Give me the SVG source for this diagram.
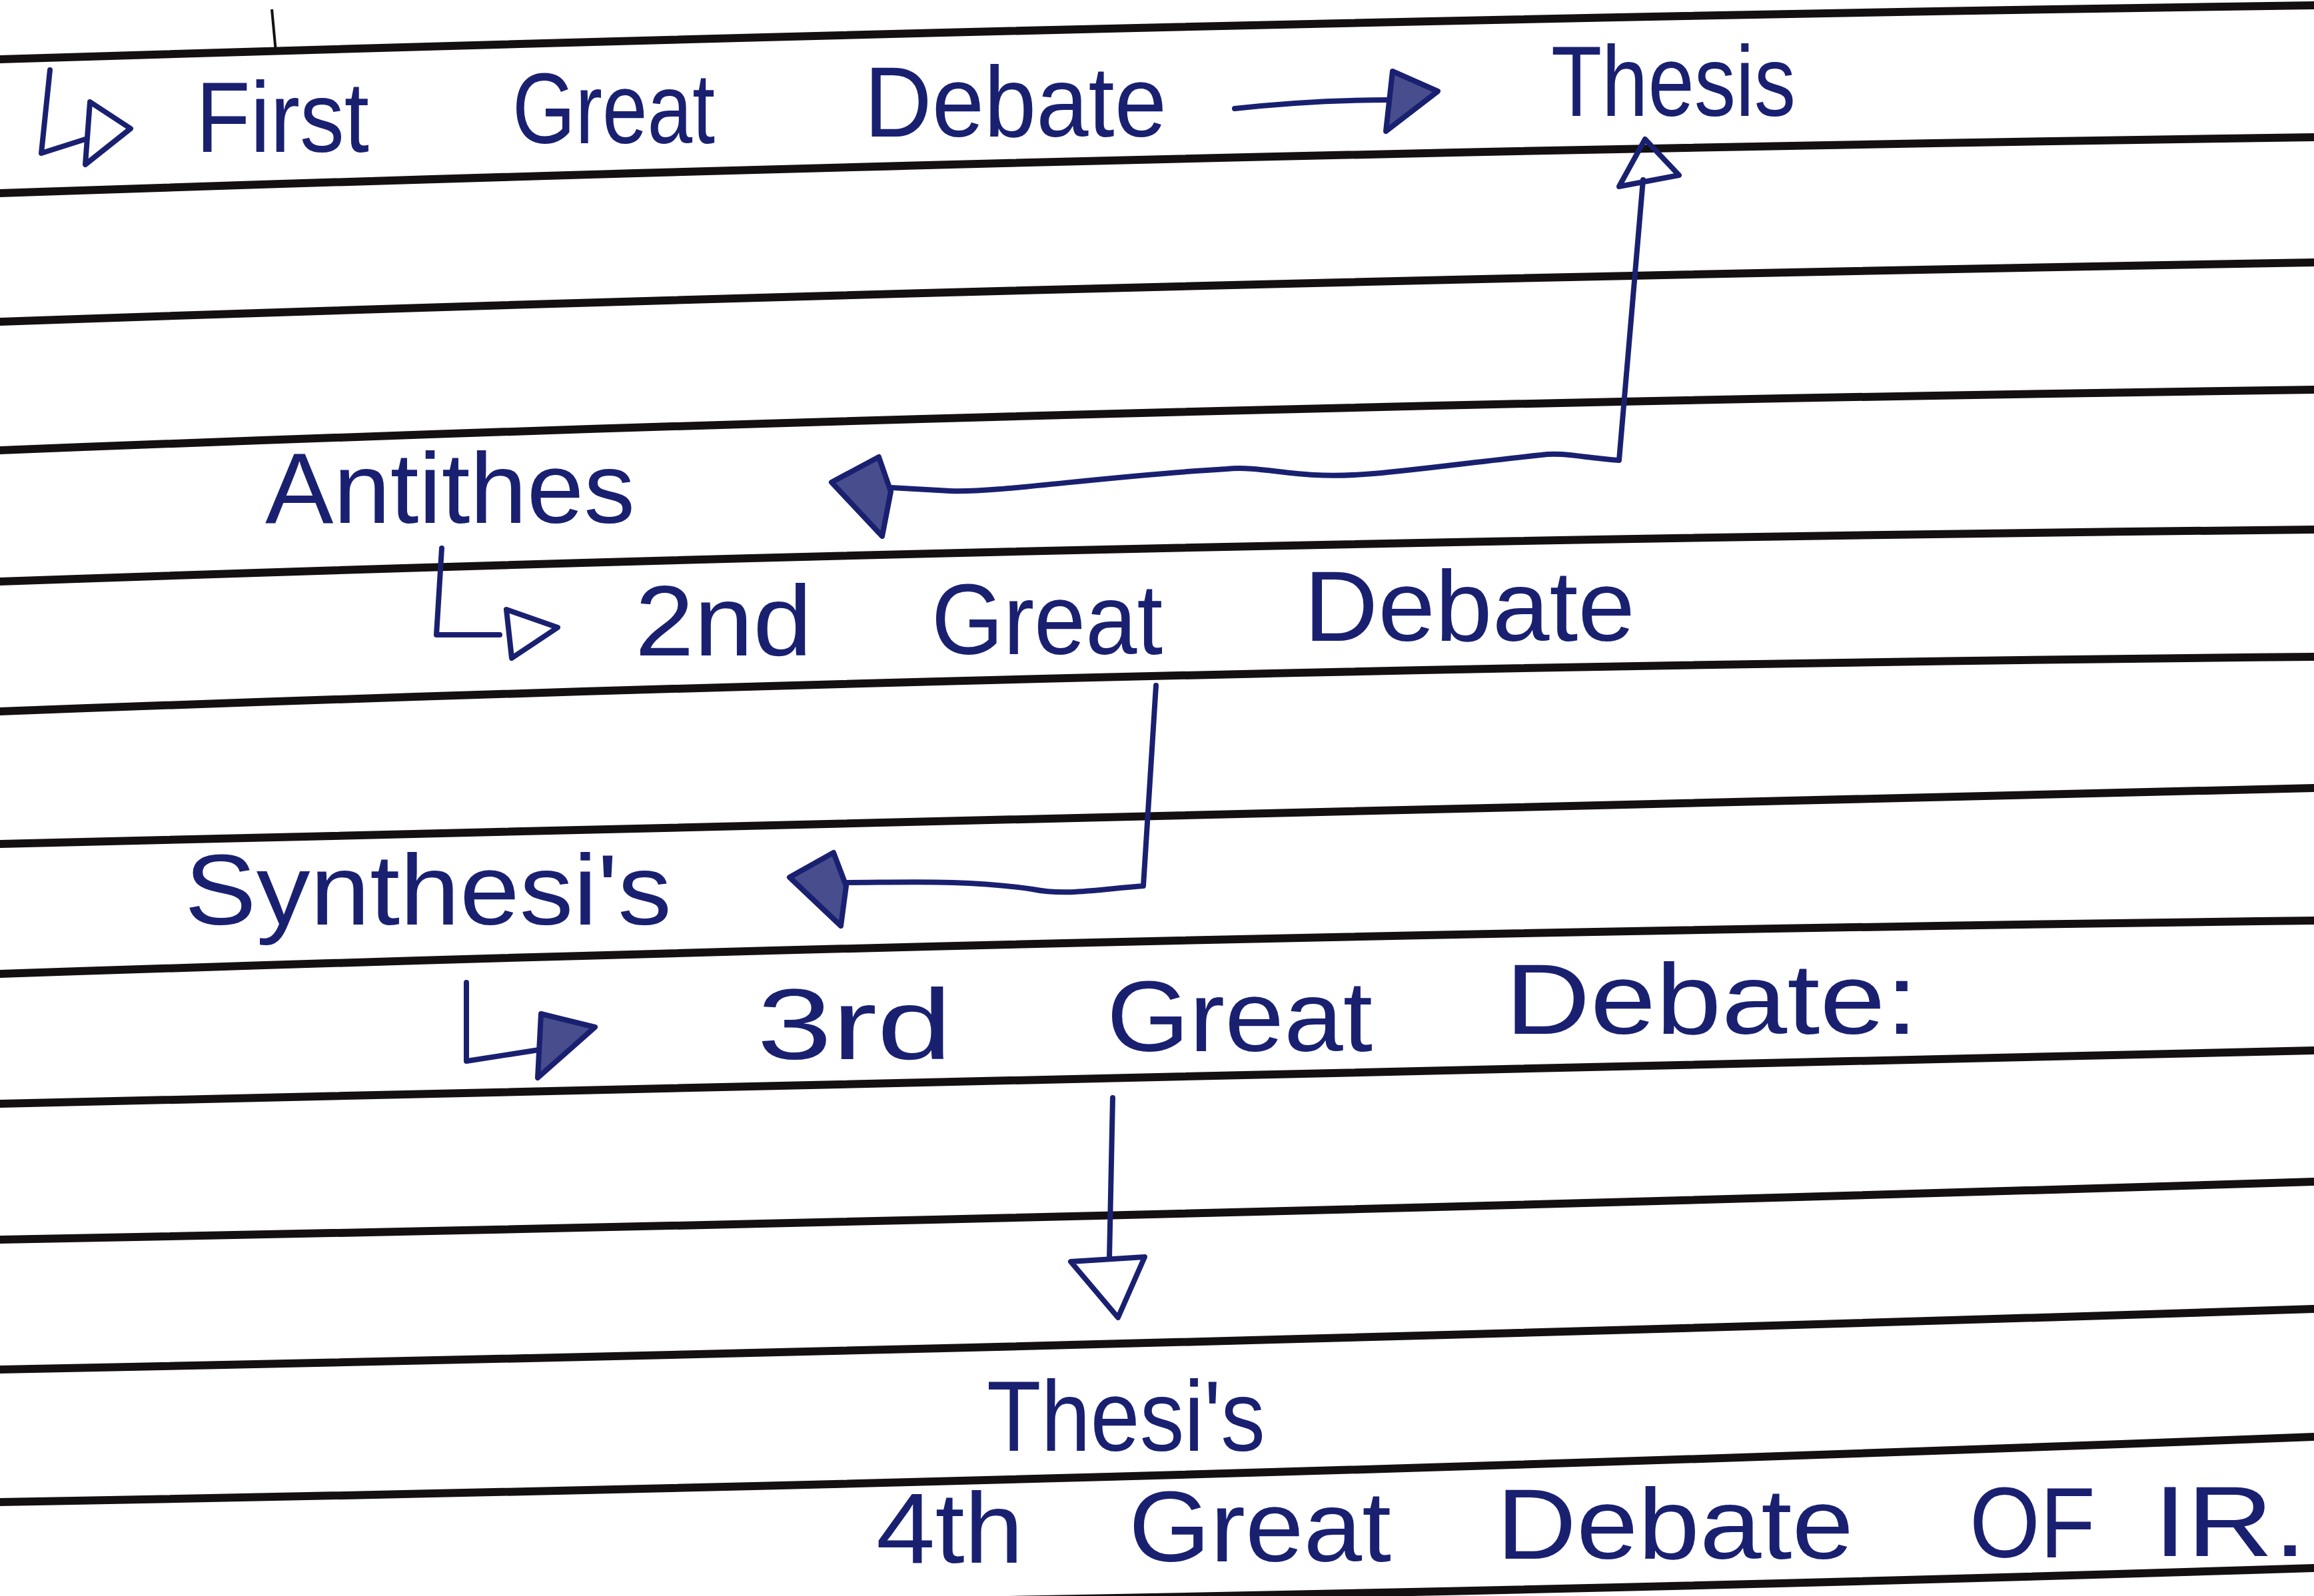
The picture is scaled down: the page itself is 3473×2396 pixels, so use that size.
<svg xmlns="http://www.w3.org/2000/svg" width="3473" height="2396" viewBox="0 0 3473 2396">
<style>
.rule{fill:none;stroke:#141012;stroke-width:12;stroke-linecap:round}
.ink{fill:none;stroke:#1a2070;stroke-width:8;stroke-linecap:round;stroke-linejoin:round}
.head{fill:#1a2070;fill-opacity:0.8;stroke:#1a2070;stroke-width:8;stroke-linejoin:round}
.open{fill:none;stroke:#1a2070;stroke-width:8;stroke-linejoin:round}
.t{font-family:"Liberation Sans","DejaVu Sans",sans-serif;font-size:150px;fill:#1a2070}
</style>
<rect width="3473" height="2396" fill="#ffffff"/>
<g id="paper">
<path class="rule" d="M0 89 Q1864 31 3473 8"/>
<path class="rule" d="M0 290 Q1764 230 3473 206"/>
<path class="rule" d="M0 483 Q1662 425 3473 394"/>
<path class="rule" d="M0 676 Q1662 610 3473 585"/>
<path class="rule" d="M0 873 Q1662 814 3473 795"/>
<path class="rule" d="M0 1068 Q1724 1003 3473 986"/>
<path class="rule" d="M0 1267 Q1718 1219 3473 1183"/>
<path class="rule" d="M0 1462 Q1718 1404 3473 1382"/>
<path class="rule" d="M0 1657 Q1718 1613 3473 1577"/>
<path class="rule" d="M0 1861 Q1736 1828 3473 1774"/>
<path class="rule" d="M0 2056 Q1736 2021 3473 1965"/>
<path class="rule" d="M0 2255 Q1736 2224 3473 2157"/>
<path class="rule" d="M1400 2404 Q2500 2385 3473 2354"/>
<path d="M408 14 L414 78" stroke="#141012" stroke-width="4" fill="none"/>
</g>
<g id="node-first-debate">
<path class="ink" d="M75 105 L62 230 L128 209"/>
<path class="open" d="M135 153 L196 193 L128 247 Z"/>
<text class="t"><tspan x="294" y="228" textLength="260" lengthAdjust="spacingAndGlyphs">First</tspan><tspan x="769" y="215" textLength="304" lengthAdjust="spacingAndGlyphs">Great</tspan><tspan x="1297" y="205" textLength="454" lengthAdjust="spacingAndGlyphs">Debate</tspan></text>
</g>
<g id="node-thesis-1">
<text class="t" x="2328" y="174" textLength="367" lengthAdjust="spacingAndGlyphs">Thesis</text>
</g>
<g id="node-antithesis">
<text class="t" x="398" y="785" textLength="555" lengthAdjust="spacingAndGlyphs">Antithes</text>
</g>
<g id="node-second-debate">
<path class="ink" d="M663 823 L655 953 L750 953"/>
<path class="open" d="M760 915 L837 942 L768 988 Z"/>
<text class="t"><tspan x="953" y="984" textLength="266" lengthAdjust="spacingAndGlyphs">2nd</tspan><tspan x="1398" y="982" textLength="347" lengthAdjust="spacingAndGlyphs">Great</tspan><tspan x="1957" y="962" textLength="497" lengthAdjust="spacingAndGlyphs">Debate</tspan></text>
</g>
<g id="node-synthesis">
<text class="t" x="277" y="1388" textLength="731" lengthAdjust="spacingAndGlyphs">Synthesi's</text>
</g>
<g id="node-third-debate">
<path class="ink" d="M700 1475 L700 1593 L809 1576"/>
<path class="head" d="M812 1522 L893 1542 L807 1618 Z"/>
<text class="t"><tspan x="1136" y="1590" textLength="293" lengthAdjust="spacingAndGlyphs">3rd</tspan><tspan x="1661" y="1578" textLength="399" lengthAdjust="spacingAndGlyphs">Great</tspan><tspan x="2259" y="1552" textLength="620" lengthAdjust="spacingAndGlyphs">Debate:</tspan></text>
</g>
<g id="node-thesis-2">
<text class="t" x="1481" y="2178" textLength="418" lengthAdjust="spacingAndGlyphs">Thesi's</text>
</g>
<g id="node-fourth-debate">
<text class="t"><tspan x="1315" y="2346" textLength="221" lengthAdjust="spacingAndGlyphs">4th</tspan><tspan x="1694" y="2344" textLength="394" lengthAdjust="spacingAndGlyphs">Great</tspan><tspan x="2246" y="2340" textLength="536" lengthAdjust="spacingAndGlyphs">Debate</tspan><tspan x="2956" y="2338" textLength="189" lengthAdjust="spacingAndGlyphs">OF</tspan><tspan x="3232" y="2336" textLength="230" lengthAdjust="spacingAndGlyphs">IR.</tspan></text>
</g>
<g id="connectors">
<path class="ink" d="M1853 163 Q1970 150 2085 150"/>
<path class="head" d="M2090 107 L2158 137 L2080 197 Z"/>
<path class="ink" d="M2466 270 L2430 691 C2380 688 2345 678 2313 683 C2150 700 2050 718 1973 713 C1920 710 1880 700 1841 704 C1650 715 1500 740 1426 737 L1337 732"/>
<path class="open" d="M2469 209 L2520 263 L2430 280 Z"/>
<path class="head" d="M1248 724 L1319 686 L1337 738 L1324 805 Z"/>
<path class="ink" d="M1735 1029 L1716 1330 C1650 1335 1600 1345 1550 1335 C1450 1320 1350 1325 1270 1325"/>
<path class="head" d="M1185 1317 L1251 1280 L1270 1330 L1262 1390 Z"/>
<path class="ink" d="M1670 1648 L1665 1890"/>
<path class="open" d="M1607 1894 L1718 1887 L1678 1978 Z"/>
</g>
</svg>
